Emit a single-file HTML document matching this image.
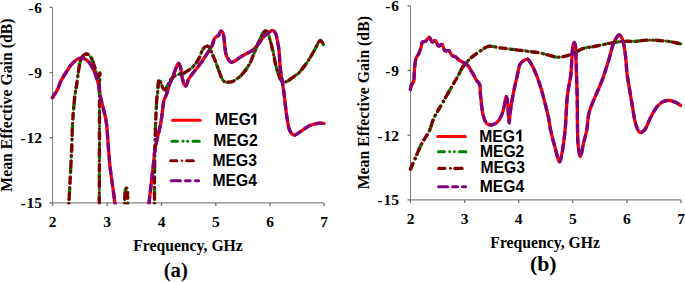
<!DOCTYPE html>
<html><head><meta charset="utf-8"><style>
html,body{margin:0;padding:0;background:#fff;width:685px;height:282px;overflow:hidden;}
svg{display:block;font-family:"Liberation Serif",serif;}
</style></head><body>
<svg width="685" height="282" viewBox="0 0 685 282">
<defs>
<clipPath id="ca"><rect x="49.6" y="0" width="277.5" height="204.3"/></clipPath>
<clipPath id="cb"><rect x="407.5" y="0" width="277.5" height="201.3"/></clipPath>
</defs>
<path d="M52.6,7.4 V202.9 H324.1" fill="none" stroke="#868686" stroke-width="1.1"/>
<path d="M52.6,202.9 v3" stroke="#707070" stroke-width="1.3"/>
<path d="M107.2,202.9 v3" stroke="#707070" stroke-width="1.3"/>
<path d="M161.5,202.9 v3" stroke="#707070" stroke-width="1.3"/>
<path d="M215.8,202.9 v3" stroke="#707070" stroke-width="1.3"/>
<path d="M270,202.9 v3" stroke="#707070" stroke-width="1.3"/>
<path d="M324.1,202.9 v3" stroke="#707070" stroke-width="1.3"/>
<path d="M52.6,7.4 h-3" stroke="#707070" stroke-width="1.3"/>
<path d="M52.6,72.56666666666668 h-3" stroke="#707070" stroke-width="1.3"/>
<path d="M52.6,137.73333333333335 h-3" stroke="#707070" stroke-width="1.3"/>
<path d="M52.6,202.9 h-3" stroke="#707070" stroke-width="1.3"/>
<path d="M410.5,5.8 V199.9 H681" fill="none" stroke="#868686" stroke-width="1.1"/>
<path d="M410.5,199.9 v3" stroke="#707070" stroke-width="1.3"/>
<path d="M464.6,199.9 v3" stroke="#707070" stroke-width="1.3"/>
<path d="M518.7,199.9 v3" stroke="#707070" stroke-width="1.3"/>
<path d="M572.8,199.9 v3" stroke="#707070" stroke-width="1.3"/>
<path d="M626.9,199.9 v3" stroke="#707070" stroke-width="1.3"/>
<path d="M681.0,199.9 v3" stroke="#707070" stroke-width="1.3"/>
<path d="M410.5,5.8 h-3" stroke="#707070" stroke-width="1.3"/>
<path d="M410.5,70.5 h-3" stroke="#707070" stroke-width="1.3"/>
<path d="M410.5,135.20000000000002 h-3" stroke="#707070" stroke-width="1.3"/>
<path d="M410.5,199.9 h-3" stroke="#707070" stroke-width="1.3"/>
<text x="42.1" y="12.8" font-family="Liberation Serif" font-weight="bold" font-size="15.5" text-anchor="end">-<tspan dx="0.9">6</tspan></text>
<text x="399.0" y="11.2" font-family="Liberation Serif" font-weight="bold" font-size="15.5" text-anchor="end">-<tspan dx="0.9">6</tspan></text>
<text x="42.1" y="78.0" font-family="Liberation Serif" font-weight="bold" font-size="15.5" text-anchor="end">-<tspan dx="0.9">9</tspan></text>
<text x="399.0" y="75.9" font-family="Liberation Serif" font-weight="bold" font-size="15.5" text-anchor="end">-<tspan dx="0.9">9</tspan></text>
<text x="42.1" y="143.1" font-family="Liberation Serif" font-weight="bold" font-size="15.5" text-anchor="end">-<tspan dx="0.9">12</tspan></text>
<text x="399.0" y="140.6" font-family="Liberation Serif" font-weight="bold" font-size="15.5" text-anchor="end">-<tspan dx="0.9">12</tspan></text>
<text x="42.1" y="208.3" font-family="Liberation Serif" font-weight="bold" font-size="15.5" text-anchor="end">-<tspan dx="0.9">15</tspan></text>
<text x="399.0" y="205.3" font-family="Liberation Serif" font-weight="bold" font-size="15.5" text-anchor="end">-<tspan dx="0.9">15</tspan></text>
<text x="52.6" y="227" font-family="Liberation Serif" font-weight="bold" font-size="15.5" text-anchor="middle">2</text>
<text x="410.5" y="224" font-family="Liberation Serif" font-weight="bold" font-size="15.5" text-anchor="middle">2</text>
<text x="107.2" y="227" font-family="Liberation Serif" font-weight="bold" font-size="15.5" text-anchor="middle">3</text>
<text x="464.6" y="224" font-family="Liberation Serif" font-weight="bold" font-size="15.5" text-anchor="middle">3</text>
<text x="161.5" y="227" font-family="Liberation Serif" font-weight="bold" font-size="15.5" text-anchor="middle">4</text>
<text x="518.7" y="224" font-family="Liberation Serif" font-weight="bold" font-size="15.5" text-anchor="middle">4</text>
<text x="215.8" y="227" font-family="Liberation Serif" font-weight="bold" font-size="15.5" text-anchor="middle">5</text>
<text x="572.8" y="224" font-family="Liberation Serif" font-weight="bold" font-size="15.5" text-anchor="middle">5</text>
<text x="270.0" y="227" font-family="Liberation Serif" font-weight="bold" font-size="15.5" text-anchor="middle">6</text>
<text x="626.9" y="224" font-family="Liberation Serif" font-weight="bold" font-size="15.5" text-anchor="middle">6</text>
<text x="324.1" y="227" font-family="Liberation Serif" font-weight="bold" font-size="15.5" text-anchor="middle">7</text>
<text x="681.0" y="224" font-family="Liberation Serif" font-weight="bold" font-size="15.5" text-anchor="middle">7</text>
<text x="188" y="251.3" font-family="Liberation Serif" font-weight="bold" font-size="15.7" text-anchor="middle">Frequency, GHz</text>
<text x="545.1" y="247.9" font-family="Liberation Serif" font-weight="bold" font-size="15.7" text-anchor="middle">Frequency, GHz</text>
<text x="175.8" y="277.2" font-family="Liberation Serif" font-weight="bold" font-size="20.8" text-anchor="middle">(a)</text>
<text x="543.3" y="271" font-family="Liberation Serif" font-weight="bold" font-size="21.8" text-anchor="middle">(b)</text>
<text transform="translate(11.5,105.1) rotate(-90)" font-family="Liberation Serif" font-weight="bold" font-size="15.8" text-anchor="middle">Mean Effective Gain (dB)</text>
<text transform="translate(369.1,102.7) rotate(-90)" font-family="Liberation Serif" font-weight="bold" font-size="15.8" text-anchor="middle">Mean Effective Gain (dB)</text>
<path d="M52.40,97.70 C53.23,96.37 55.95,92.52 57.40,89.70 C58.89,86.80 59.74,83.41 61.20,80.50 C62.62,77.68 64.38,75.07 66.00,72.50 C67.55,70.04 69.01,67.46 70.70,65.40 C72.21,63.56 73.89,61.83 75.50,60.60 C76.83,59.58 78.32,58.73 79.50,58.30 C80.34,58.00 80.97,57.82 81.80,57.90 C82.84,58.00 84.06,58.52 85.20,59.20 C86.62,60.05 88.27,61.44 89.50,62.90 C90.79,64.42 91.70,66.24 92.70,68.20 C93.85,70.45 94.94,72.97 95.90,75.70 C97.00,78.83 98.05,82.52 98.80,86.00 C99.55,89.48 99.68,93.00 100.40,96.60 C101.16,100.42 102.36,104.28 103.30,108.30 C104.29,112.54 105.40,116.16 106.20,121.40 C107.36,129.06 107.90,141.78 108.60,150.00 C109.13,156.22 109.29,159.88 110.00,166.40 C111.06,176.10 113.78,193.58 114.80,202.50 C115.40,207.74 115.80,212.92 116.00,215.00" fill="none" stroke="#ff0000" stroke-width="3.3" stroke-linejoin="round" stroke-linecap="round" clip-path="url(#ca)"/>
<path d="M148.00,215.00 C148.18,212.92 148.56,207.90 149.10,202.50 C150.10,192.53 152.96,169.10 153.90,160.00 C154.35,155.70 154.18,154.50 154.80,150.50 C155.89,143.47 159.40,130.65 161.00,121.70 C162.38,113.98 162.78,104.64 164.10,100.00 C164.76,97.69 165.56,96.99 166.30,95.00 C167.33,92.22 168.22,88.03 169.40,84.80 C170.51,81.75 171.96,79.02 173.10,76.10 C174.23,73.22 175.24,69.63 176.20,67.40 C176.83,65.95 177.43,64.47 178.00,63.90 C178.27,63.63 178.54,63.40 178.80,63.50 C179.38,63.71 180.00,65.73 180.50,67.40 C181.31,70.14 181.65,75.44 182.40,78.60 C182.97,80.99 183.51,83.59 184.30,84.80 C184.72,85.44 185.26,86.08 185.70,86.00 C186.29,85.89 186.82,84.09 187.30,83.00 C187.83,81.78 187.94,80.44 188.70,79.00 C189.76,76.98 191.93,74.47 193.60,72.30 C195.23,70.17 196.89,68.39 198.60,66.10 C200.60,63.43 203.02,59.85 204.80,57.20 C206.21,55.10 207.28,53.48 208.50,51.50 C209.78,49.42 211.29,47.22 212.30,45.00 C213.27,42.88 213.58,39.98 214.50,38.50 C215.09,37.55 215.79,37.01 216.50,36.50 C217.13,36.04 217.95,36.05 218.50,35.50 C219.17,34.83 219.48,33.34 220.00,32.50 C220.42,31.83 220.84,30.82 221.30,30.80 C221.77,30.78 222.40,31.70 222.80,32.50 C223.44,33.76 223.66,35.88 224.00,38.00 C224.45,40.83 224.59,44.97 225.00,48.00 C225.35,50.55 225.52,52.97 226.20,55.00 C226.77,56.71 227.62,58.24 228.50,59.50 C229.25,60.57 230.03,61.90 231.00,62.20 C231.89,62.47 233.04,61.92 234.00,61.50 C235.04,61.05 236.01,60.19 237.00,59.50 C238.01,58.79 238.82,58.07 240.00,57.30 C241.57,56.27 243.80,55.04 245.70,54.00 C247.56,52.98 249.61,52.22 251.30,51.10 C252.89,50.04 254.24,48.92 255.60,47.50 C257.13,45.91 258.56,43.72 259.90,41.90 C261.14,40.22 262.13,38.35 263.40,37.00 C264.52,35.82 265.87,35.00 267.00,34.10 C267.99,33.31 268.84,32.54 269.80,31.90 C270.71,31.29 271.71,30.17 272.60,30.30 C273.62,30.45 274.73,31.91 275.50,33.30 C276.62,35.33 277.01,39.03 277.60,41.90 C278.18,44.73 278.64,47.34 279.00,50.40 C279.41,53.96 279.51,58.42 279.80,62.00 C280.05,65.08 280.18,67.13 280.60,70.60 C281.26,75.98 282.82,84.59 283.70,91.10 C284.49,97.00 285.12,103.34 285.70,108.00 C286.11,111.29 286.25,113.24 286.80,116.40 C287.52,120.57 288.19,127.53 289.90,130.80 C290.99,132.89 292.38,134.95 294.00,135.20 C295.74,135.47 298.20,132.97 300.10,131.80 C301.85,130.73 303.34,129.54 305.00,128.50 C306.64,127.47 308.19,126.40 310.00,125.60 C311.94,124.74 314.46,123.99 316.30,123.60 C317.68,123.31 318.73,123.22 320.00,123.20 C321.33,123.18 323.42,123.45 324.10,123.50" fill="none" stroke="#ff0000" stroke-width="3.3" stroke-linejoin="round" stroke-linecap="round" clip-path="url(#ca)"/>
<path d="M68.00,215.00 C68.15,212.92 68.55,208.10 68.90,202.50 C69.61,191.02 70.95,164.62 71.60,150.00 C72.06,139.52 72.22,130.16 72.60,123.00 C72.85,118.26 73.06,115.34 73.40,111.20 C73.78,106.59 74.25,100.96 74.80,96.60 C75.25,93.03 75.80,90.25 76.30,86.90 C76.84,83.30 77.36,79.39 77.90,75.70 C78.43,72.09 78.87,67.93 79.50,65.00 C79.95,62.91 80.36,61.32 81.00,59.70 C81.58,58.21 82.08,56.56 83.10,55.60 C84.05,54.71 85.63,53.91 86.80,54.00 C87.93,54.09 89.13,55.09 90.00,56.00 C90.92,56.96 91.49,58.39 92.10,59.70 C92.73,61.06 93.19,62.48 93.70,64.00 C94.26,65.67 94.77,67.53 95.30,69.30 C95.83,71.07 96.29,73.21 96.90,74.60 C97.33,75.59 97.85,77.04 98.30,77.00 C98.87,76.95 99.63,72.75 99.90,72.80 C100.25,72.87 99.77,77.82 99.70,80.00 C99.64,81.82 99.55,82.58 99.50,85.00 C99.37,91.40 99.52,105.87 99.50,120.00 C99.47,141.69 99.32,187.09 99.30,202.50 C99.29,208.50 99.30,212.92 99.30,215.00" fill="none" stroke="#008000" stroke-width="3.3" stroke-dasharray="5.5 5.7 0.01 4.6 0.01 5.4" stroke-linejoin="round" stroke-linecap="round" clip-path="url(#ca)"/>
<path d="M124.60,215.00 C124.65,211.67 124.59,199.71 124.90,195.00 C125.07,192.41 125.09,190.12 125.60,189.00 C125.84,188.47 126.24,187.95 126.50,188.00 C126.83,188.06 127.11,189.13 127.30,190.00 C127.62,191.45 127.52,193.44 127.60,196.00 C127.74,200.56 127.77,211.83 127.80,215.00" fill="none" stroke="#008000" stroke-width="3.3" stroke-dasharray="5.5 5.7 0.01 4.6 0.01 5.4" stroke-linejoin="round" stroke-linecap="round" clip-path="url(#ca)"/>
<path d="M154.50,215.00 C154.55,204.67 154.37,173.04 154.80,153.00 C155.21,134.11 156.11,106.15 156.90,98.00 C157.13,95.66 157.38,95.35 157.60,93.50 C157.94,90.55 158.00,84.51 158.50,82.00 C158.75,80.73 159.01,79.22 159.40,79.20 C159.89,79.18 160.68,82.09 161.30,83.60 C161.95,85.18 162.39,87.45 163.20,88.50 C163.73,89.18 164.45,89.91 165.00,89.80 C165.71,89.66 166.18,87.94 166.90,86.70 C167.95,84.88 169.23,81.76 170.60,79.90 C171.74,78.36 172.77,77.09 174.30,76.10 C176.00,74.99 178.86,74.19 180.50,73.80 C181.53,73.55 182.16,73.81 183.10,73.50 C184.40,73.07 185.94,71.96 187.40,71.00 C189.03,69.93 190.82,68.81 192.40,67.30 C194.18,65.59 196.10,63.11 197.40,61.10 C198.48,59.43 199.16,57.80 199.90,56.20 C200.58,54.71 200.99,53.22 201.70,51.80 C202.42,50.36 203.15,48.54 204.20,47.60 C205.08,46.81 206.37,46.15 207.30,46.20 C208.11,46.24 208.91,46.83 209.50,47.50 C210.22,48.32 210.39,49.57 211.00,51.00 C211.96,53.25 213.48,56.70 214.70,59.70 C215.99,62.88 217.23,66.35 218.50,69.60 C219.73,72.78 220.88,76.86 222.20,79.00 C223.00,80.30 223.69,81.27 224.70,81.80 C225.65,82.29 226.84,82.19 228.00,82.20 C229.29,82.22 230.81,82.22 232.10,81.80 C233.42,81.37 234.52,80.47 235.80,79.60 C237.30,78.58 239.06,77.34 240.50,76.00 C241.96,74.65 243.25,73.08 244.50,71.50 C245.75,69.91 246.95,68.15 248.00,66.50 C248.97,64.98 249.77,63.72 250.60,62.00 C251.62,59.87 252.48,57.15 253.50,54.60 C254.60,51.86 255.82,48.93 257.00,46.10 C258.18,43.26 259.41,40.03 260.60,37.60 C261.54,35.68 262.42,33.77 263.40,32.60 C264.08,31.80 264.79,30.91 265.50,30.90 C266.22,30.89 267.08,31.72 267.70,32.60 C268.67,33.97 269.13,36.75 269.80,39.00 C270.53,41.46 271.23,44.09 271.90,46.80 C272.63,49.73 273.38,53.03 274.00,56.00 C274.57,58.75 274.65,60.89 275.50,64.00 C276.76,68.62 279.05,78.46 281.60,80.80 C282.84,81.94 284.13,82.16 285.70,81.90 C288.22,81.48 292.52,77.32 294.80,75.80 C296.17,74.88 296.83,74.76 298.10,73.60 C300.53,71.37 304.43,66.17 307.20,62.20 C309.96,58.24 312.44,53.65 314.70,49.80 C316.64,46.49 318.45,40.81 320.00,40.50 C320.79,40.34 321.57,41.40 322.20,42.20 C323.01,43.24 323.78,45.78 324.10,46.50" fill="none" stroke="#008000" stroke-width="3.3" stroke-dasharray="5.5 5.7 0.01 4.6 0.01 5.4" stroke-linejoin="round" stroke-linecap="round" clip-path="url(#ca)"/>
<path d="M68.00,215.00 C68.15,212.92 68.55,208.10 68.90,202.50 C69.61,191.02 70.95,164.62 71.60,150.00 C72.06,139.52 72.22,130.16 72.60,123.00 C72.85,118.26 73.06,115.34 73.40,111.20 C73.78,106.59 74.25,100.96 74.80,96.60 C75.25,93.03 75.80,90.25 76.30,86.90 C76.84,83.30 77.36,79.39 77.90,75.70 C78.43,72.09 78.87,67.93 79.50,65.00 C79.95,62.91 80.36,61.32 81.00,59.70 C81.58,58.21 82.08,56.56 83.10,55.60 C84.05,54.71 85.63,53.91 86.80,54.00 C87.93,54.09 89.13,55.09 90.00,56.00 C90.92,56.96 91.49,58.39 92.10,59.70 C92.73,61.06 93.19,62.48 93.70,64.00 C94.26,65.67 94.77,67.53 95.30,69.30 C95.83,71.07 96.29,73.21 96.90,74.60 C97.33,75.59 97.85,77.04 98.30,77.00 C98.87,76.95 99.63,72.75 99.90,72.80 C100.25,72.87 99.77,77.82 99.70,80.00 C99.64,81.82 99.55,82.58 99.50,85.00 C99.37,91.40 99.52,105.87 99.50,120.00 C99.47,141.69 99.32,187.09 99.30,202.50 C99.29,208.50 99.30,212.92 99.30,215.00" fill="none" stroke="#800000" stroke-width="3.3" stroke-dasharray="6.1 5.6 0.01 4.3" stroke-linejoin="round" stroke-linecap="round" clip-path="url(#ca)"/>
<path d="M124.60,215.00 C124.65,211.67 124.59,199.71 124.90,195.00 C125.07,192.41 125.09,190.12 125.60,189.00 C125.84,188.47 126.24,187.95 126.50,188.00 C126.83,188.06 127.11,189.13 127.30,190.00 C127.62,191.45 127.52,193.44 127.60,196.00 C127.74,200.56 127.77,211.83 127.80,215.00" fill="none" stroke="#800000" stroke-width="3.3" stroke-dasharray="6.1 5.6 0.01 4.3" stroke-linejoin="round" stroke-linecap="round" clip-path="url(#ca)"/>
<path d="M154.50,215.00 C154.55,204.67 154.37,173.04 154.80,153.00 C155.21,134.11 156.11,106.15 156.90,98.00 C157.13,95.66 157.38,95.35 157.60,93.50 C157.94,90.55 158.00,84.51 158.50,82.00 C158.75,80.73 159.01,79.22 159.40,79.20 C159.89,79.18 160.68,82.09 161.30,83.60 C161.95,85.18 162.39,87.45 163.20,88.50 C163.73,89.18 164.45,89.91 165.00,89.80 C165.71,89.66 166.18,87.94 166.90,86.70 C167.95,84.88 169.23,81.76 170.60,79.90 C171.74,78.36 172.77,77.09 174.30,76.10 C176.00,74.99 178.86,74.19 180.50,73.80 C181.53,73.55 182.16,73.81 183.10,73.50 C184.40,73.07 185.94,71.96 187.40,71.00 C189.03,69.93 190.82,68.81 192.40,67.30 C194.18,65.59 196.10,63.11 197.40,61.10 C198.48,59.43 199.16,57.80 199.90,56.20 C200.58,54.71 200.99,53.22 201.70,51.80 C202.42,50.36 203.15,48.54 204.20,47.60 C205.08,46.81 206.37,46.15 207.30,46.20 C208.11,46.24 208.91,46.83 209.50,47.50 C210.22,48.32 210.39,49.57 211.00,51.00 C211.96,53.25 213.48,56.70 214.70,59.70 C215.99,62.88 217.23,66.35 218.50,69.60 C219.73,72.78 220.88,76.86 222.20,79.00 C223.00,80.30 223.69,81.27 224.70,81.80 C225.65,82.29 226.84,82.19 228.00,82.20 C229.29,82.22 230.81,82.22 232.10,81.80 C233.42,81.37 234.52,80.47 235.80,79.60 C237.30,78.58 239.06,77.34 240.50,76.00 C241.96,74.65 243.25,73.08 244.50,71.50 C245.75,69.91 246.95,68.15 248.00,66.50 C248.97,64.98 249.77,63.72 250.60,62.00 C251.62,59.87 252.48,57.15 253.50,54.60 C254.60,51.86 255.82,48.93 257.00,46.10 C258.18,43.26 259.41,40.03 260.60,37.60 C261.54,35.68 262.42,33.77 263.40,32.60 C264.08,31.80 264.79,30.91 265.50,30.90 C266.22,30.89 267.08,31.72 267.70,32.60 C268.67,33.97 269.13,36.75 269.80,39.00 C270.53,41.46 271.23,44.09 271.90,46.80 C272.63,49.73 273.38,53.03 274.00,56.00 C274.57,58.75 274.65,60.89 275.50,64.00 C276.76,68.62 279.05,78.46 281.60,80.80 C282.84,81.94 284.13,82.16 285.70,81.90 C288.22,81.48 292.52,77.32 294.80,75.80 C296.17,74.88 296.83,74.76 298.10,73.60 C300.53,71.37 304.43,66.17 307.20,62.20 C309.96,58.24 312.44,53.65 314.70,49.80 C316.64,46.49 318.45,40.81 320.00,40.50 C320.79,40.34 321.57,41.40 322.20,42.20 C323.01,43.24 323.78,45.78 324.10,46.50" fill="none" stroke="#800000" stroke-width="3.3" stroke-dasharray="6.1 5.6 0.01 4.3" stroke-linejoin="round" stroke-linecap="round" clip-path="url(#ca)"/>
<path d="M52.40,97.70 C53.23,96.37 55.95,92.52 57.40,89.70 C58.89,86.80 59.74,83.41 61.20,80.50 C62.62,77.68 64.38,75.07 66.00,72.50 C67.55,70.04 69.01,67.46 70.70,65.40 C72.21,63.56 73.89,61.83 75.50,60.60 C76.83,59.58 78.32,58.73 79.50,58.30 C80.34,58.00 80.97,57.82 81.80,57.90 C82.84,58.00 84.06,58.52 85.20,59.20 C86.62,60.05 88.27,61.44 89.50,62.90 C90.79,64.42 91.70,66.24 92.70,68.20 C93.85,70.45 94.94,72.97 95.90,75.70 C97.00,78.83 98.05,82.52 98.80,86.00 C99.55,89.48 99.68,93.00 100.40,96.60 C101.16,100.42 102.36,104.28 103.30,108.30 C104.29,112.54 105.40,116.16 106.20,121.40 C107.36,129.06 107.90,141.78 108.60,150.00 C109.13,156.22 109.29,159.88 110.00,166.40 C111.06,176.10 113.78,193.58 114.80,202.50 C115.40,207.74 115.80,212.92 116.00,215.00" fill="none" stroke="#800080" stroke-width="3.3" stroke-dasharray="6 6" stroke-linejoin="round" stroke-linecap="round" clip-path="url(#ca)"/>
<path d="M148.00,215.00 C148.18,212.92 148.56,207.90 149.10,202.50 C150.10,192.53 152.96,169.10 153.90,160.00 C154.35,155.70 154.18,154.50 154.80,150.50 C155.89,143.47 159.40,130.65 161.00,121.70 C162.38,113.98 162.78,104.64 164.10,100.00 C164.76,97.69 165.56,96.99 166.30,95.00 C167.33,92.22 168.22,88.03 169.40,84.80 C170.51,81.75 171.96,79.02 173.10,76.10 C174.23,73.22 175.24,69.63 176.20,67.40 C176.83,65.95 177.43,64.47 178.00,63.90 C178.27,63.63 178.54,63.40 178.80,63.50 C179.38,63.71 180.00,65.73 180.50,67.40 C181.31,70.14 181.65,75.44 182.40,78.60 C182.97,80.99 183.51,83.59 184.30,84.80 C184.72,85.44 185.26,86.08 185.70,86.00 C186.29,85.89 186.82,84.09 187.30,83.00 C187.83,81.78 187.94,80.44 188.70,79.00 C189.76,76.98 191.93,74.47 193.60,72.30 C195.23,70.17 196.89,68.39 198.60,66.10 C200.60,63.43 203.02,59.85 204.80,57.20 C206.21,55.10 207.28,53.48 208.50,51.50 C209.78,49.42 211.29,47.22 212.30,45.00 C213.27,42.88 213.58,39.98 214.50,38.50 C215.09,37.55 215.79,37.01 216.50,36.50 C217.13,36.04 217.95,36.05 218.50,35.50 C219.17,34.83 219.48,33.34 220.00,32.50 C220.42,31.83 220.84,30.82 221.30,30.80 C221.77,30.78 222.40,31.70 222.80,32.50 C223.44,33.76 223.66,35.88 224.00,38.00 C224.45,40.83 224.59,44.97 225.00,48.00 C225.35,50.55 225.52,52.97 226.20,55.00 C226.77,56.71 227.62,58.24 228.50,59.50 C229.25,60.57 230.03,61.90 231.00,62.20 C231.89,62.47 233.04,61.92 234.00,61.50 C235.04,61.05 236.01,60.19 237.00,59.50 C238.01,58.79 238.82,58.07 240.00,57.30 C241.57,56.27 243.80,55.04 245.70,54.00 C247.56,52.98 249.61,52.22 251.30,51.10 C252.89,50.04 254.24,48.92 255.60,47.50 C257.13,45.91 258.56,43.72 259.90,41.90 C261.14,40.22 262.13,38.35 263.40,37.00 C264.52,35.82 265.87,35.00 267.00,34.10 C267.99,33.31 268.84,32.54 269.80,31.90 C270.71,31.29 271.71,30.17 272.60,30.30 C273.62,30.45 274.73,31.91 275.50,33.30 C276.62,35.33 277.01,39.03 277.60,41.90 C278.18,44.73 278.64,47.34 279.00,50.40 C279.41,53.96 279.51,58.42 279.80,62.00 C280.05,65.08 280.18,67.13 280.60,70.60 C281.26,75.98 282.82,84.59 283.70,91.10 C284.49,97.00 285.12,103.34 285.70,108.00 C286.11,111.29 286.25,113.24 286.80,116.40 C287.52,120.57 288.19,127.53 289.90,130.80 C290.99,132.89 292.38,134.95 294.00,135.20 C295.74,135.47 298.20,132.97 300.10,131.80 C301.85,130.73 303.34,129.54 305.00,128.50 C306.64,127.47 308.19,126.40 310.00,125.60 C311.94,124.74 314.46,123.99 316.30,123.60 C317.68,123.31 318.73,123.22 320.00,123.20 C321.33,123.18 323.42,123.45 324.10,123.50" fill="none" stroke="#800080" stroke-width="3.3" stroke-dasharray="6 6" stroke-linejoin="round" stroke-linecap="round" clip-path="url(#ca)"/>
<path d="M410.40,89.60 C410.53,88.92 410.73,86.66 411.20,85.50 C411.59,84.52 412.34,83.85 412.80,83.00 C413.24,82.18 413.66,81.52 413.90,80.50 C414.25,79.05 414.07,77.10 414.20,75.00 C414.38,72.18 414.52,68.13 414.90,65.10 C415.23,62.50 415.45,59.89 416.20,57.90 C416.80,56.31 417.86,55.43 418.60,53.90 C419.49,52.05 420.33,49.57 421.00,47.50 C421.61,45.61 421.49,42.99 422.50,42.00 C423.27,41.25 424.70,41.81 425.70,41.20 C426.97,40.42 428.14,37.11 429.20,37.20 C430.28,37.30 430.93,41.66 432.10,42.00 C433.04,42.27 434.35,40.11 435.30,40.40 C436.58,40.79 437.18,45.58 438.50,46.00 C439.52,46.33 441.02,44.04 442.00,44.40 C443.31,44.89 443.48,49.79 444.90,50.70 C445.97,51.39 447.78,50.09 448.90,50.70 C450.24,51.43 450.70,54.43 452.00,55.50 C453.13,56.43 454.81,56.32 456.00,57.10 C457.22,57.90 457.85,59.33 459.20,60.30 C460.89,61.52 463.92,62.31 465.60,63.50 C466.91,64.42 467.78,65.30 468.70,66.50 C469.75,67.87 470.49,69.84 471.40,71.40 C472.26,72.87 473.20,74.18 474.00,75.60 C474.79,77.01 475.41,78.68 476.20,79.90 C476.86,80.91 477.67,81.71 478.30,82.50 C478.82,83.15 479.39,83.54 479.70,84.30 C480.09,85.27 479.98,86.57 480.10,88.00 C480.26,89.96 480.31,92.85 480.50,95.00 C480.66,96.84 480.91,98.28 481.10,100.10 C481.32,102.18 481.39,104.47 481.70,106.80 C482.04,109.38 482.48,112.41 483.10,114.90 C483.65,117.10 484.19,119.34 485.10,121.00 C485.84,122.35 486.71,123.64 487.80,124.30 C488.78,124.89 490.03,125.07 491.20,125.00 C492.49,124.93 493.94,124.47 495.20,123.70 C496.67,122.80 498.13,121.28 499.30,119.60 C500.66,117.65 501.73,115.00 502.60,112.50 C503.51,109.88 503.99,106.93 504.60,104.20 C505.19,101.56 505.67,96.41 506.20,96.40 C506.63,96.39 507.16,99.38 507.50,101.50 C508.04,104.87 508.08,110.90 508.40,114.80 C508.65,117.86 508.95,123.00 509.20,123.00 C509.45,123.00 509.57,117.69 509.90,114.80 C510.27,111.53 510.88,107.74 511.40,104.40 C511.88,101.29 512.31,98.50 512.90,95.40 C513.53,92.05 514.43,87.99 515.10,85.00 C515.61,82.72 516.03,81.08 516.50,79.00 C517.00,76.76 517.42,74.39 518.00,72.00 C518.61,69.46 519.00,66.11 520.10,64.20 C520.91,62.79 522.01,61.95 523.20,61.10 C524.41,60.24 526.04,58.82 527.30,59.10 C528.81,59.44 530.08,62.07 531.40,64.20 C533.22,67.14 535.05,71.65 536.60,75.50 C538.15,79.35 539.44,83.23 540.70,87.30 C542.02,91.55 543.08,95.81 544.30,100.50 C545.68,105.80 547.41,112.25 548.50,117.50 C549.43,121.97 549.66,125.53 550.60,130.00 C551.70,135.25 553.35,141.54 554.90,147.00 C556.36,152.15 558.30,161.94 559.60,161.90 C560.69,161.87 561.50,155.47 562.30,151.30 C563.42,145.45 564.29,138.04 565.10,130.00 C566.14,119.60 566.41,104.17 567.60,94.10 C568.47,86.71 570.08,81.17 570.80,75.00 C571.47,69.26 571.51,63.50 571.90,58.30 C572.25,53.75 572.29,48.31 573.00,45.50 C573.37,44.04 573.99,42.26 574.40,42.30 C574.92,42.34 575.40,45.37 575.70,47.60 C576.20,51.29 575.92,56.53 576.10,62.50 C576.37,71.49 576.86,83.89 577.20,96.30 C577.61,111.49 577.08,136.79 578.30,147.00 C578.84,151.50 579.61,156.60 580.40,156.60 C581.34,156.61 582.51,147.31 583.60,142.80 C584.65,138.45 585.94,134.58 586.80,130.00 C587.77,124.83 587.54,118.81 588.90,113.30 C590.32,107.57 593.10,101.76 595.30,96.30 C597.38,91.15 599.68,86.71 601.70,81.40 C603.94,75.52 605.94,69.00 608.00,62.50 C610.17,55.65 611.96,46.18 614.40,41.30 C615.86,38.38 617.70,34.96 619.10,34.90 C620.12,34.86 621.10,36.52 621.90,38.10 C623.37,40.99 624.17,46.68 625.00,51.90 C626.06,58.58 626.35,68.44 627.20,75.00 C627.84,79.90 628.52,83.11 629.30,87.80 C630.25,93.53 631.40,100.72 632.50,106.90 C633.54,112.74 634.16,119.29 635.70,123.90 C636.84,127.31 638.14,131.80 639.90,132.40 C641.15,132.83 642.84,131.65 644.20,130.30 C646.55,127.97 648.40,121.53 650.60,117.50 C652.64,113.76 654.53,109.67 656.90,106.90 C658.85,104.62 661.02,102.65 663.30,101.60 C665.32,100.67 667.59,100.34 669.70,100.50 C671.85,100.66 674.20,101.70 676.10,102.60 C677.79,103.41 679.85,105.02 680.60,105.50" fill="none" stroke="#ff0000" stroke-width="3.3" stroke-linejoin="round" stroke-linecap="round" clip-path="url(#cb)"/>
<path d="M410.50,169.00 C410.95,167.98 412.06,165.48 413.20,162.90 C415.19,158.40 418.50,150.11 421.40,144.40 C424.03,139.23 427.57,134.66 429.70,130.00 C431.55,125.96 431.97,122.24 433.80,118.20 C435.91,113.54 439.27,108.60 442.00,103.80 C444.73,99.00 447.45,94.20 450.20,89.40 C452.95,84.60 456.24,79.07 458.50,75.00 C460.13,72.05 460.81,69.88 462.60,67.30 C464.73,64.22 467.92,60.65 470.80,58.00 C473.41,55.59 476.23,53.80 479.00,51.90 C481.70,50.04 484.85,47.51 487.20,46.70 C488.73,46.17 489.70,46.23 491.30,46.30 C493.59,46.39 496.84,47.38 499.60,47.80 C502.34,48.21 505.07,48.47 507.80,48.80 C510.53,49.13 513.27,49.47 516.00,49.80 C518.73,50.13 521.46,50.45 524.20,50.80 C526.96,51.15 529.80,51.52 532.50,51.90 C535.06,52.26 537.43,52.50 540.00,53.00 C542.76,53.54 545.67,54.40 548.50,55.10 C551.33,55.80 554.15,57.04 557.00,57.20 C559.82,57.36 562.70,56.78 565.50,56.10 C568.37,55.40 571.20,54.21 574.00,53.00 C576.87,51.76 579.42,49.76 582.50,48.70 C585.79,47.57 589.64,47.30 593.20,46.60 C596.74,45.90 600.27,45.22 603.80,44.50 C607.33,43.78 610.85,42.83 614.40,42.30 C617.92,41.77 621.45,41.47 625.00,41.30 C628.55,41.13 632.15,41.48 635.70,41.30 C639.25,41.12 642.96,40.37 646.30,40.20 C649.29,40.05 651.68,40.07 654.80,40.20 C658.63,40.36 663.33,40.71 667.60,41.30 C671.93,41.90 678.43,43.38 680.60,43.80" fill="none" stroke="#008000" stroke-width="3.3" stroke-dasharray="5.5 5.7 0.01 4.6 0.01 5.4" stroke-linejoin="round" stroke-linecap="round" clip-path="url(#cb)"/>
<path d="M410.50,169.00 C410.95,167.98 412.06,165.48 413.20,162.90 C415.19,158.40 418.50,150.11 421.40,144.40 C424.03,139.23 427.57,134.66 429.70,130.00 C431.55,125.96 431.97,122.24 433.80,118.20 C435.91,113.54 439.27,108.60 442.00,103.80 C444.73,99.00 447.45,94.20 450.20,89.40 C452.95,84.60 456.24,79.07 458.50,75.00 C460.13,72.05 460.81,69.88 462.60,67.30 C464.73,64.22 467.92,60.65 470.80,58.00 C473.41,55.59 476.23,53.80 479.00,51.90 C481.70,50.04 484.85,47.51 487.20,46.70 C488.73,46.17 489.70,46.23 491.30,46.30 C493.59,46.39 496.84,47.38 499.60,47.80 C502.34,48.21 505.07,48.47 507.80,48.80 C510.53,49.13 513.27,49.47 516.00,49.80 C518.73,50.13 521.46,50.45 524.20,50.80 C526.96,51.15 529.80,51.52 532.50,51.90 C535.06,52.26 537.43,52.50 540.00,53.00 C542.76,53.54 545.67,54.40 548.50,55.10 C551.33,55.80 554.15,57.04 557.00,57.20 C559.82,57.36 562.70,56.78 565.50,56.10 C568.37,55.40 571.20,54.21 574.00,53.00 C576.87,51.76 579.42,49.76 582.50,48.70 C585.79,47.57 589.64,47.30 593.20,46.60 C596.74,45.90 600.27,45.22 603.80,44.50 C607.33,43.78 610.85,42.83 614.40,42.30 C617.92,41.77 621.45,41.47 625.00,41.30 C628.55,41.13 632.15,41.48 635.70,41.30 C639.25,41.12 642.96,40.37 646.30,40.20 C649.29,40.05 651.68,40.07 654.80,40.20 C658.63,40.36 663.33,40.71 667.60,41.30 C671.93,41.90 678.43,43.38 680.60,43.80" fill="none" stroke="#800000" stroke-width="3.3" stroke-dasharray="6.1 5.6 0.01 4.3" stroke-linejoin="round" stroke-linecap="round" clip-path="url(#cb)"/>
<path d="M410.40,89.60 C410.53,88.92 410.73,86.66 411.20,85.50 C411.59,84.52 412.34,83.85 412.80,83.00 C413.24,82.18 413.66,81.52 413.90,80.50 C414.25,79.05 414.07,77.10 414.20,75.00 C414.38,72.18 414.52,68.13 414.90,65.10 C415.23,62.50 415.45,59.89 416.20,57.90 C416.80,56.31 417.86,55.43 418.60,53.90 C419.49,52.05 420.33,49.57 421.00,47.50 C421.61,45.61 421.49,42.99 422.50,42.00 C423.27,41.25 424.70,41.81 425.70,41.20 C426.97,40.42 428.14,37.11 429.20,37.20 C430.28,37.30 430.93,41.66 432.10,42.00 C433.04,42.27 434.35,40.11 435.30,40.40 C436.58,40.79 437.18,45.58 438.50,46.00 C439.52,46.33 441.02,44.04 442.00,44.40 C443.31,44.89 443.48,49.79 444.90,50.70 C445.97,51.39 447.78,50.09 448.90,50.70 C450.24,51.43 450.70,54.43 452.00,55.50 C453.13,56.43 454.81,56.32 456.00,57.10 C457.22,57.90 457.85,59.33 459.20,60.30 C460.89,61.52 463.92,62.31 465.60,63.50 C466.91,64.42 467.78,65.30 468.70,66.50 C469.75,67.87 470.49,69.84 471.40,71.40 C472.26,72.87 473.20,74.18 474.00,75.60 C474.79,77.01 475.41,78.68 476.20,79.90 C476.86,80.91 477.67,81.71 478.30,82.50 C478.82,83.15 479.39,83.54 479.70,84.30 C480.09,85.27 479.98,86.57 480.10,88.00 C480.26,89.96 480.31,92.85 480.50,95.00 C480.66,96.84 480.91,98.28 481.10,100.10 C481.32,102.18 481.39,104.47 481.70,106.80 C482.04,109.38 482.48,112.41 483.10,114.90 C483.65,117.10 484.19,119.34 485.10,121.00 C485.84,122.35 486.71,123.64 487.80,124.30 C488.78,124.89 490.03,125.07 491.20,125.00 C492.49,124.93 493.94,124.47 495.20,123.70 C496.67,122.80 498.13,121.28 499.30,119.60 C500.66,117.65 501.73,115.00 502.60,112.50 C503.51,109.88 503.99,106.93 504.60,104.20 C505.19,101.56 505.67,96.41 506.20,96.40 C506.63,96.39 507.16,99.38 507.50,101.50 C508.04,104.87 508.08,110.90 508.40,114.80 C508.65,117.86 508.95,123.00 509.20,123.00 C509.45,123.00 509.57,117.69 509.90,114.80 C510.27,111.53 510.88,107.74 511.40,104.40 C511.88,101.29 512.31,98.50 512.90,95.40 C513.53,92.05 514.43,87.99 515.10,85.00 C515.61,82.72 516.03,81.08 516.50,79.00 C517.00,76.76 517.42,74.39 518.00,72.00 C518.61,69.46 519.00,66.11 520.10,64.20 C520.91,62.79 522.01,61.95 523.20,61.10 C524.41,60.24 526.04,58.82 527.30,59.10 C528.81,59.44 530.08,62.07 531.40,64.20 C533.22,67.14 535.05,71.65 536.60,75.50 C538.15,79.35 539.44,83.23 540.70,87.30 C542.02,91.55 543.08,95.81 544.30,100.50 C545.68,105.80 547.41,112.25 548.50,117.50 C549.43,121.97 549.66,125.53 550.60,130.00 C551.70,135.25 553.35,141.54 554.90,147.00 C556.36,152.15 558.30,161.94 559.60,161.90 C560.69,161.87 561.50,155.47 562.30,151.30 C563.42,145.45 564.29,138.04 565.10,130.00 C566.14,119.60 566.41,104.17 567.60,94.10 C568.47,86.71 570.08,81.17 570.80,75.00 C571.47,69.26 571.51,63.50 571.90,58.30 C572.25,53.75 572.29,48.31 573.00,45.50 C573.37,44.04 573.99,42.26 574.40,42.30 C574.92,42.34 575.40,45.37 575.70,47.60 C576.20,51.29 575.92,56.53 576.10,62.50 C576.37,71.49 576.86,83.89 577.20,96.30 C577.61,111.49 577.08,136.79 578.30,147.00 C578.84,151.50 579.61,156.60 580.40,156.60 C581.34,156.61 582.51,147.31 583.60,142.80 C584.65,138.45 585.94,134.58 586.80,130.00 C587.77,124.83 587.54,118.81 588.90,113.30 C590.32,107.57 593.10,101.76 595.30,96.30 C597.38,91.15 599.68,86.71 601.70,81.40 C603.94,75.52 605.94,69.00 608.00,62.50 C610.17,55.65 611.96,46.18 614.40,41.30 C615.86,38.38 617.70,34.96 619.10,34.90 C620.12,34.86 621.10,36.52 621.90,38.10 C623.37,40.99 624.17,46.68 625.00,51.90 C626.06,58.58 626.35,68.44 627.20,75.00 C627.84,79.90 628.52,83.11 629.30,87.80 C630.25,93.53 631.40,100.72 632.50,106.90 C633.54,112.74 634.16,119.29 635.70,123.90 C636.84,127.31 638.14,131.80 639.90,132.40 C641.15,132.83 642.84,131.65 644.20,130.30 C646.55,127.97 648.40,121.53 650.60,117.50 C652.64,113.76 654.53,109.67 656.90,106.90 C658.85,104.62 661.02,102.65 663.30,101.60 C665.32,100.67 667.59,100.34 669.70,100.50 C671.85,100.66 674.20,101.70 676.10,102.60 C677.79,103.41 679.85,105.02 680.60,105.50" fill="none" stroke="#800080" stroke-width="3.3" stroke-dasharray="6 6" stroke-linejoin="round" stroke-linecap="round" clip-path="url(#cb)"/>
<line x1="172.55" y1="120.2" x2="200.15" y2="120.2" stroke="#ff0000" stroke-width="3.1" stroke-linecap="round"/>
<line x1="171.95" y1="141.3" x2="177.35" y2="141.3" stroke="#008000" stroke-width="3.1" stroke-linecap="round"/>
<circle cx="183.05" cy="141.3" r="1.45" fill="#008000"/>
<circle cx="187.60" cy="141.3" r="1.50" fill="#008000"/>
<line x1="193.05" y1="141.3" x2="199.25" y2="141.3" stroke="#008000" stroke-width="3.1" stroke-linecap="round"/>
<line x1="170.75" y1="160.7" x2="176.75" y2="160.7" stroke="#800000" stroke-width="3.1" stroke-linecap="round"/>
<circle cx="182.10" cy="160.7" r="1.20" fill="#800000"/>
<line x1="186.75" y1="160.7" x2="193.35" y2="160.7" stroke="#800000" stroke-width="3.1" stroke-linecap="round"/>
<line x1="171.35" y1="180.7" x2="180.35" y2="180.7" stroke="#800080" stroke-width="3.1" stroke-linecap="round"/>
<line x1="185.55" y1="180.7" x2="190.15" y2="180.7" stroke="#800080" stroke-width="3.1" stroke-linecap="round"/>
<line x1="195.45" y1="180.7" x2="198.65" y2="180.7" stroke="#800080" stroke-width="3.1" stroke-linecap="round"/>
<text x="215.1" y="124.8" font-family="Liberation Sans" font-weight="bold" font-size="15.7" fill="#000">MEG</text>
<text x="213.3" y="145.9" font-family="Liberation Sans" font-weight="bold" font-size="15.7" fill="#000">MEG2</text>
<text x="212.5" y="165.9" font-family="Liberation Sans" font-weight="bold" font-size="15.7" fill="#000">MEG3</text>
<text x="212.5" y="185.9" font-family="Liberation Sans" font-weight="bold" font-size="15.7" fill="#000">MEG4</text>
<line x1="437.75" y1="136.5" x2="465.25" y2="136.5" stroke="#ff0000" stroke-width="3.1" stroke-linecap="round"/>
<line x1="438.55" y1="151.8" x2="444.35" y2="151.8" stroke="#008000" stroke-width="3.1" stroke-linecap="round"/>
<circle cx="449.65" cy="151.8" r="1.45" fill="#008000"/>
<circle cx="454.35" cy="151.8" r="1.45" fill="#008000"/>
<line x1="459.55" y1="151.8" x2="465.75" y2="151.8" stroke="#008000" stroke-width="3.1" stroke-linecap="round"/>
<line x1="438.85" y1="168.4" x2="444.85" y2="168.4" stroke="#800000" stroke-width="3.1" stroke-linecap="round"/>
<circle cx="450.45" cy="168.4" r="1.45" fill="#800000"/>
<line x1="454.85" y1="168.4" x2="462.05" y2="168.4" stroke="#800000" stroke-width="3.1" stroke-linecap="round"/>
<line x1="438.65" y1="186.7" x2="447.65" y2="186.7" stroke="#800080" stroke-width="3.1" stroke-linecap="round"/>
<line x1="452.65" y1="186.7" x2="457.55" y2="186.7" stroke="#800080" stroke-width="3.1" stroke-linecap="round"/>
<line x1="462.45" y1="186.7" x2="465.55" y2="186.7" stroke="#800080" stroke-width="3.1" stroke-linecap="round"/>
<text x="479.3" y="141.6" font-family="Liberation Sans" font-weight="bold" font-size="15.7" fill="#000">MEG</text>
<text x="479.9" y="156.8" font-family="Liberation Sans" font-weight="bold" font-size="15.7" fill="#000">MEG2</text>
<text x="480.5" y="173.2" font-family="Liberation Sans" font-weight="bold" font-size="15.7" fill="#000">MEG3</text>
<text x="479.8" y="191.6" font-family="Liberation Sans" font-weight="bold" font-size="15.7" fill="#000">MEG4</text>
<path d="M256.30,124.80 L256.30,113.50 L254.40,113.50 L251.20,116.50 L251.20,118.70 L253.75,116.80 L253.75,124.80Z" fill="#000"/>
<path d="M521.40,141.50 L521.40,129.70 L519.50,129.70 L516.30,132.70 L516.30,134.90 L518.85,133.00 L518.85,141.50Z" fill="#000"/>
</svg>
</body></html>
